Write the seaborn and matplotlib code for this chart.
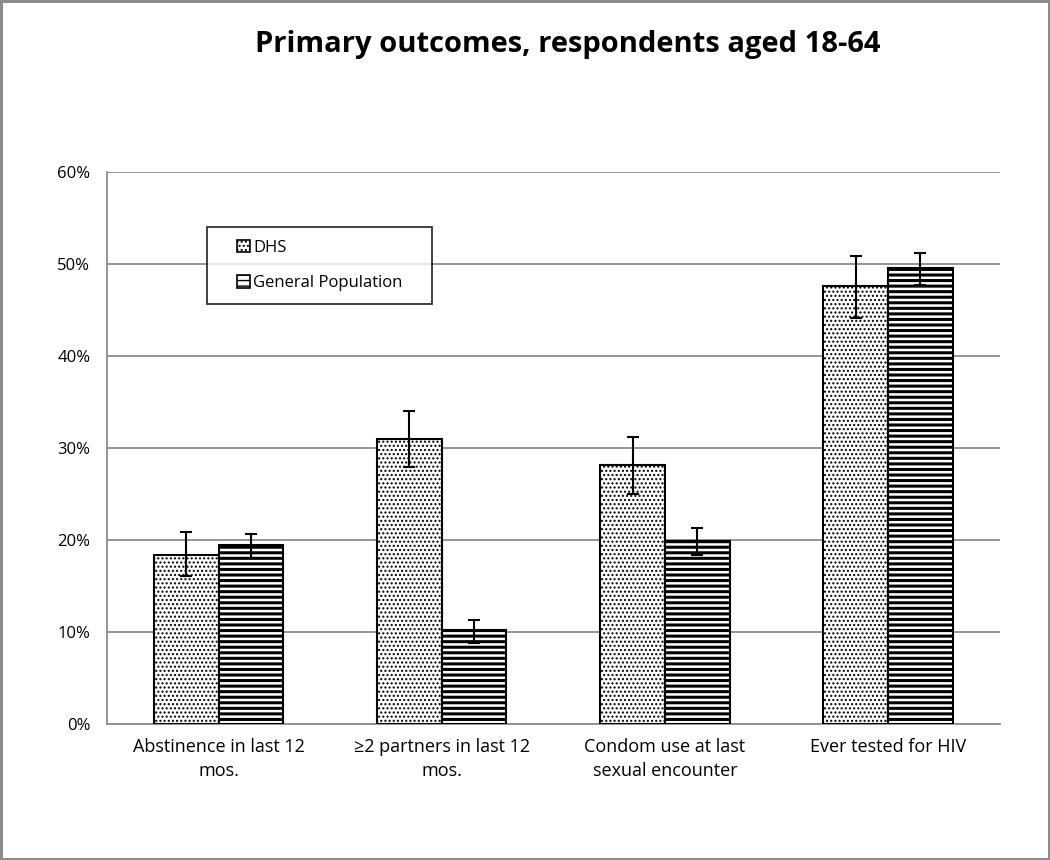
import pandas as pd
import numpy as np
import matplotlib
matplotlib.use('Agg')
import matplotlib.pyplot as plt
from matplotlib.patches import Patch
import seaborn as sns

# values (percent)
categories = ['Abstinence in last 12\nmos.', '\u22652 partners in last 12\nmos.',
              'Condom use at last\nsexual encounter', 'Ever tested for HIV']
groups = ['DHS', 'General Population']
dhs = [18.4, 31.0, 28.2, 47.6]
dhs_low = [16.1, 27.9, 25.0, 44.1]
dhs_high = [20.9, 34.0, 31.2, 50.9]
gen_pop = [19.5, 10.2, 19.9, 49.6]
gen_low = [18.0, 8.8, 18.4, 47.7]
gen_high = [20.7, 11.3, 21.3, 51.2]

df = pd.DataFrame({
    'outcome': categories * 2,
    'group': [groups[0]] * 4 + [groups[1]] * 4,
    'pct': dhs + gen_pop,
    'low': dhs_low + gen_low,
    'high': dhs_high + gen_high,
})

sns.set_style('white')
plt.rcParams['font.family'] = ['Open Sans', 'DejaVu Sans']
plt.rcParams['text.color'] = 'black'
plt.rcParams['xtick.color'] = 'black'
plt.rcParams['ytick.color'] = 'black'

fig = plt.figure(figsize=(10.5, 8.6), dpi=100)
fig.patch.set_edgecolor('#8c8c8c')
fig.patch.set_linewidth(2.5)
ax = fig.add_axes([0.102, 0.158, 0.850, 0.642])

sns.barplot(data=df, x='outcome', y='pct', hue='group', order=categories,
            hue_order=groups, color='white', edgecolor='black', linewidth=1.5,
            width=0.58, errorbar=None, ax=ax, zorder=3, legend=False)

hatches = {groups[0]: '....', groups[1]: '---'}
hatch_lw = {groups[0]: 1.0, groups[1]: 2.2}
for cont, g in zip(ax.containers, groups):
    for p in cont:
        p.set_hatch(hatches[g])
        p.set_facecolor('white')
        if hasattr(p, 'set_hatch_linewidth'):
            p.set_hatch_linewidth(hatch_lw[g])

# error bars at the bar centres
for cont, g in zip(ax.containers, groups):
    sub = df[df['group'] == g].set_index('outcome').loc[categories]
    xs = [p.get_x() + p.get_width() / 2 for p in cont]
    yerr = [sub['pct'] - sub['low'], sub['high'] - sub['pct']]
    ax.errorbar(xs, sub['pct'], yerr=yerr, fmt='none', ecolor='black',
                elinewidth=1.5, capsize=4, capthick=1.5, zorder=4)

ax.set_ylim(0, 60)
ax.set_yticks(range(0, 61, 10))
ax.set_yticklabels([f'{v}%' for v in range(0, 61, 10)], fontsize=12)
ax.tick_params(axis='x', labelsize=13, length=0, pad=10)
ax.tick_params(axis='y', length=0, pad=12)
for lab in ax.get_xticklabels():
    lab.set_linespacing(1.45)
ax.yaxis.grid(True, color='#8c8c8c', linewidth=1.3, zorder=0)
ax.set_axisbelow(True)
for s in ['top', 'right']:
    ax.spines[s].set_visible(False)
for s in ['left', 'bottom']:
    ax.spines[s].set_color('#8c8c8c')
    ax.spines[s].set_linewidth(1.3)
ax.set_xlabel('')
ax.set_ylabel('')
ax.set_xlim(-0.5, 3.5)

handles = []
for g in groups:
    h = Patch(facecolor='white', edgecolor='black', linewidth=1.2, hatch=hatches[g])
    if hasattr(h, 'set_hatch_linewidth'):
        h.set_hatch_linewidth(hatch_lw[g])
    handles.append(h)

leg = ax.legend(handles, groups, loc='upper left', bbox_to_anchor=(0.112, 0.9),
                frameon=True, fancybox=False, edgecolor='black', fontsize=12,
                handlelength=0.8, handleheight=0.8, handletextpad=0.2,
                labelspacing=1.15, borderpad=0.75, borderaxespad=0)
leg.get_frame().set_linewidth(1.3)
leg._legend_box.set_width(200)

fig.text(0.541, 0.948, 'Primary outcomes, respondents aged 18-64',
         ha='center', va='center', fontsize=21, fontweight='bold')

fig.savefig('out.png', dpi=100, edgecolor=fig.get_edgecolor())
